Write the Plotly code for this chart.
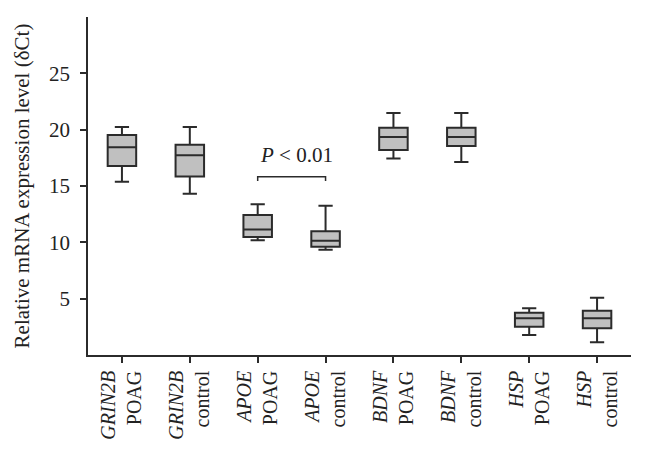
import plotly.graph_objects as go

genes = ["GRIN2B", "GRIN2B", "APOE", "APOE", "BDNF", "BDNF", "HSP", "HSP"]
groups = ["POAG", "control", "POAG", "control", "POAG", "control", "POAG", "control"]
categories = [f"{g} {s}" for g, s in zip(genes, groups)]
tick_labels = [f"<i>{g}</i><br>{s}" for g, s in zip(genes, groups)]

upper = [20.23, 20.23, 13.37, 13.25, 21.47, 21.47, 4.14, 5.08]
q3 = [19.52, 18.66, 12.42, 10.98, 20.17, 20.17, 3.75, 3.93]
median = [18.43, 17.72, 11.15, 10.14, 19.34, 19.34, 3.26, 3.26]
q1 = [16.77, 15.85, 10.47, 9.61, 18.19, 18.54, 2.51, 2.37]
lower = [15.38, 14.31, 10.18, 9.34, 17.45, 17.12, 1.77, 1.13]

y_ticks = [5, 10, 15, 20, 25]
p_label = "<i>P</i> < 0.01"
p_pair = [2, 3]
p_level = 15.83
p_drop = 15.45

FONT = "Liberation Serif"
INK = "#2b2b2b"

fig = go.Figure()
fig.add_trace(go.Box(
    x=categories,
    q1=q1, median=median, q3=q3,
    lowerfence=lower, upperfence=upper,
    fillcolor="#c0c0c0",
    line=dict(color=INK, width=2),
    whiskerwidth=0.5,
    boxpoints=False,
    showlegend=False,
))

fig.add_shape(
    type="path",
    xref="x", yref="y",
    path=(f"M {p_pair[0]},{p_drop} L {p_pair[0]},{p_level} "
          f"L {p_pair[1]},{p_level} L {p_pair[1]},{p_drop}"),
    line=dict(color=INK, width=1.5),
)
fig.add_annotation(
    x=2.57, y=17.75, xref="x", yref="y",
    text=p_label, showarrow=False,
    font=dict(family=FONT, size=21, color="#222"),
)

# the page body adds an 8 px offset, so margins are shifted to compensate
fig.update_layout(
    width=645, height=458,
    margin=dict(l=80, r=22, t=9, b=111),
    paper_bgcolor="white", plot_bgcolor="white",
    font=dict(family=FONT, size=20, color="#222"),
    boxgap=0.4,
)
fig.update_xaxes(
    type="category", automargin=False,
    categoryorder="array", categoryarray=categories,
    tickmode="array", tickvals=categories, ticktext=tick_labels,
    tickangle=-90,
    range=[-0.5, 7.5],
    showline=True, linecolor=INK, linewidth=1.5,
    ticks="outside", ticklen=6, tickcolor=INK, tickwidth=1.5,
    showgrid=False, zeroline=False,
    tickfont=dict(family=FONT, size=20, color="#222"),
)
fig.update_yaxes(
    range=[0, 30], automargin=False,
    tickmode="array", tickvals=y_ticks,
    showline=True, linecolor=INK, linewidth=1.5,
    ticks="outside", ticklen=6, tickcolor=INK, tickwidth=1.5,
    ticklabelstandoff=6,
    showgrid=False, zeroline=False,
    tickfont=dict(family=FONT, size=21, color="#222"),
    title=dict(text="Relative mRNA expression level (δCt)",
               font=dict(family=FONT, size=21, color="#222"), standoff=14),
)

fig.write_html("out.html")
